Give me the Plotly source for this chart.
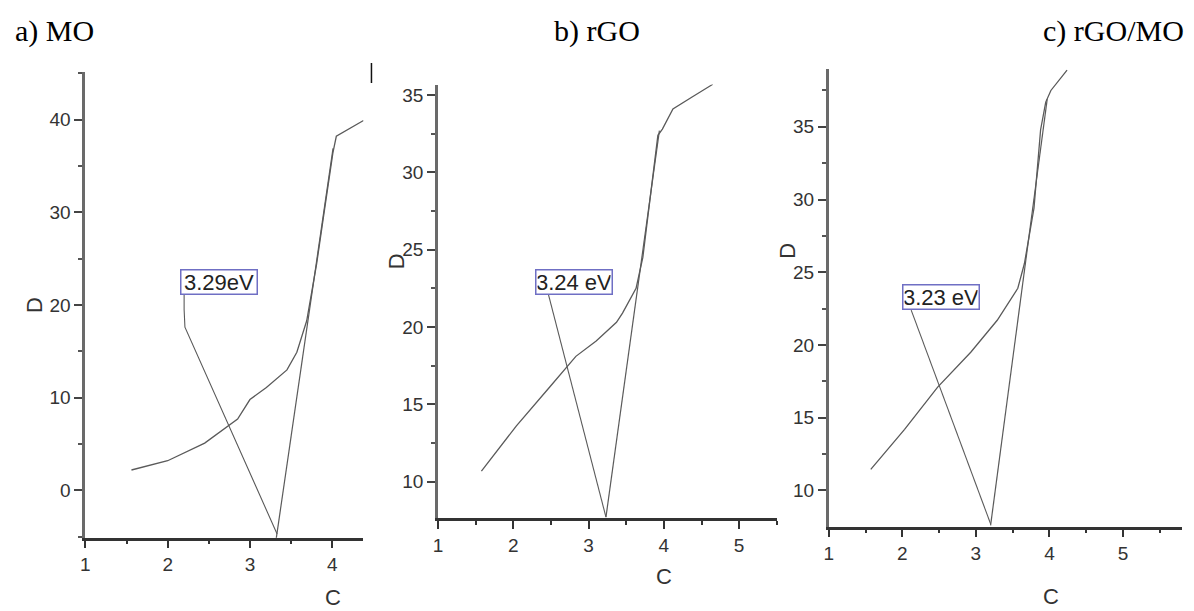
import plotly.graph_objects as go

# ---------------- data ----------------
panel_titles = ["a) MO", "b) rGO", "c) rGO/MO"]
gap_labels = ["3.29eV", "3.24 eV", "3.23 eV"]

# a) MO
curve_a_x = [1.56, 2.0, 2.45, 2.85, 3.0, 3.2, 3.45, 3.57, 3.69, 3.81, 3.91, 4.01, 4.05, 4.2, 4.38]
curve_a_y = [2.2, 3.2, 5.1, 7.7, 9.8, 11.1, 13.0, 14.9, 18.3, 24.4, 30.5, 36.5, 38.2, 39.0, 39.9]
tangent_a_x = [3.29, 4.01]
tangent_a_y = [-7.0, 36.9]
pointer_a_x = [2.2, 2.2, 2.21, 3.33]
pointer_a_y = [21.2, 19.5, 17.6, -4.7]
label_a_pos = (2.63, 22.5)

# b) rGO
curve_b_x = [1.575, 2.04, 2.48, 2.83, 3.10, 3.37, 3.45, 3.63, 3.72, 3.81, 3.92, 3.98, 4.12, 4.38, 4.65]
curve_b_y = [10.68, 13.6, 16.1, 18.1, 19.1, 20.3, 20.9, 22.5, 24.5, 28.2, 32.4, 32.8, 34.1, 34.9, 35.7]
tangent_b_x = [3.23, 3.94]
tangent_b_y = [7.7, 32.7]
pointer_b_x = [2.46, 3.23]
pointer_b_y = [22.2, 7.7]
label_b_pos = (2.81, 22.88)

# c) rGO/MO
curve_c_x = [1.57, 2.03, 2.48, 2.93, 3.29, 3.48, 3.57, 3.66, 3.79, 3.88, 3.95, 4.02, 4.24]
curve_c_y = [11.45, 14.2, 17.1, 19.5, 21.7, 23.2, 23.9, 25.6, 29.4, 34.8, 36.7, 37.5, 38.9]
tangent_c_x = [3.20, 3.97]
tangent_c_y = [7.6, 36.9]
pointer_c_x = [2.12, 3.17, 3.20]
pointer_c_y = [22.4, 8.2, 7.7]
label_c_pos = (2.53, 23.27)

x_ranges = [[1, 4.38], [1, 5.5], [1, 5.8]]
y_ranges = [[-5.1, 45.1], [7.61, 35.68], [7.51, 38.99]]
y_dticks = [10, 5, 5]

# ---------------- style ----------------
LINE = "#5a5a5a"
TICKFONT = dict(family="Liberation Sans Narrow, Liberation Sans, Arial", size=19, color="#333")
TITLEFONT = dict(family="Liberation Sans, Arial", size=22, color="#333")
SERIF = dict(family="Liberation Serif, Times New Roman", size=30, color="#000")

x_domains = [[0.0676, 0.3015], [0.3643, 0.6491], [0.6929, 0.9897]]
y_domains = [[0.1200, 0.8817], [0.1514, 0.8615], [0.1381, 0.8874]]

fig = go.Figure()

panels = [
    (curve_a_x, curve_a_y, tangent_a_x, tangent_a_y, pointer_a_x, pointer_a_y, label_a_pos),
    (curve_b_x, curve_b_y, tangent_b_x, tangent_b_y, pointer_b_x, pointer_b_y, label_b_pos),
    (curve_c_x, curve_c_y, tangent_c_x, tangent_c_y, pointer_c_x, pointer_c_y, label_c_pos),
]

annotations = []
for i, (cx, cy, tx, ty, px, py, lp) in enumerate(panels):
    xa = "x" if i == 0 else f"x{i+1}"
    ya = "y" if i == 0 else f"y{i+1}"
    for xs, ys, w in [(cx, cy, 1.3), (tx, ty, 1.2), (px, py, 1.1)]:
        fig.add_trace(go.Scatter(x=xs, y=ys, mode="lines", xaxis=xa, yaxis=ya,
                                 line=dict(color=LINE, width=w), showlegend=False,
                                 hoverinfo="skip"))
    annotations.append(dict(x=lp[0], y=lp[1], xref=xa, yref=ya, text=gap_labels[i],
                            showarrow=False, xanchor="center", yanchor="middle",
                            font=dict(family="Liberation Sans Narrow, Liberation Sans, Arial",
                                      size=22, color="#222"),
                            bordercolor="#6f6fc4", borderwidth=1.5, borderpad=1,
                            bgcolor="white", width=73, height=21))

    ax_common = dict(showgrid=False, zeroline=False, showline=True, ticks="outside",
                     ticklen=8, tickwidth=2, tickfont=TICKFONT)
    fig.layout[f"xaxis{'' if i == 0 else i+1}"] = dict(
        ax_common, domain=x_domains[i], anchor=ya, range=x_ranges[i],
        tick0=1, dtick=1, linecolor="#333", linewidth=2.5, tickcolor="#333",
        minor=dict(ticks="outside", ticklen=4, tickwidth=2, dtick=0.5, tickcolor="#333"))
    fig.layout[f"yaxis{'' if i == 0 else i+1}"] = dict(
        ax_common, domain=y_domains[i], anchor=xa, range=y_ranges[i],
        tick0=0, dtick=y_dticks[i], linecolor="#6a6a6a", linewidth=3, tickcolor="#444",
        minor=dict(ticks="outside", ticklen=4, tickwidth=2, dtick=y_dticks[i] / 2, tickcolor="#555"))

# panel titles
for txt, xp in zip(panel_titles, [8, 549, 1040]):
    annotations.append(dict(x=xp / 1194, y=1 - 31 / 611, xref="paper", yref="paper", text=txt,
                            showarrow=False, xanchor="left", yanchor="middle", font=SERIF))

# axis titles
for xp, yp in [(0.0243, 0.5008), (0.3291, 0.5728), (0.6583, 0.5892)]:
    annotations.append(dict(x=xp, y=yp, xref="paper", yref="paper", text="D", textangle=-90,
                            showarrow=False, xanchor="center", yanchor="middle", font=TITLEFONT))
for xp, yp in [(0.2755, 0.0229), (0.5542, 0.0565), (0.8794, 0.0245)]:
    annotations.append(dict(x=xp, y=yp, xref="paper", yref="paper", text="C",
                            showarrow=False, xanchor="center", yanchor="middle", font=TITLEFONT))

fig.update_layout(
    width=1194, height=611,
    margin=dict(l=0, r=0, t=0, b=0),
    paper_bgcolor="white", plot_bgcolor="white",
    annotations=annotations,
    shapes=[dict(type="line", xref="paper", yref="paper", x0=368 / 1194, x1=368 / 1194,
                 y0=1 - 63 / 611, y1=1 - 83 / 611, line=dict(color="#111", width=1.5))],
)

fig.write_html("out.html")
